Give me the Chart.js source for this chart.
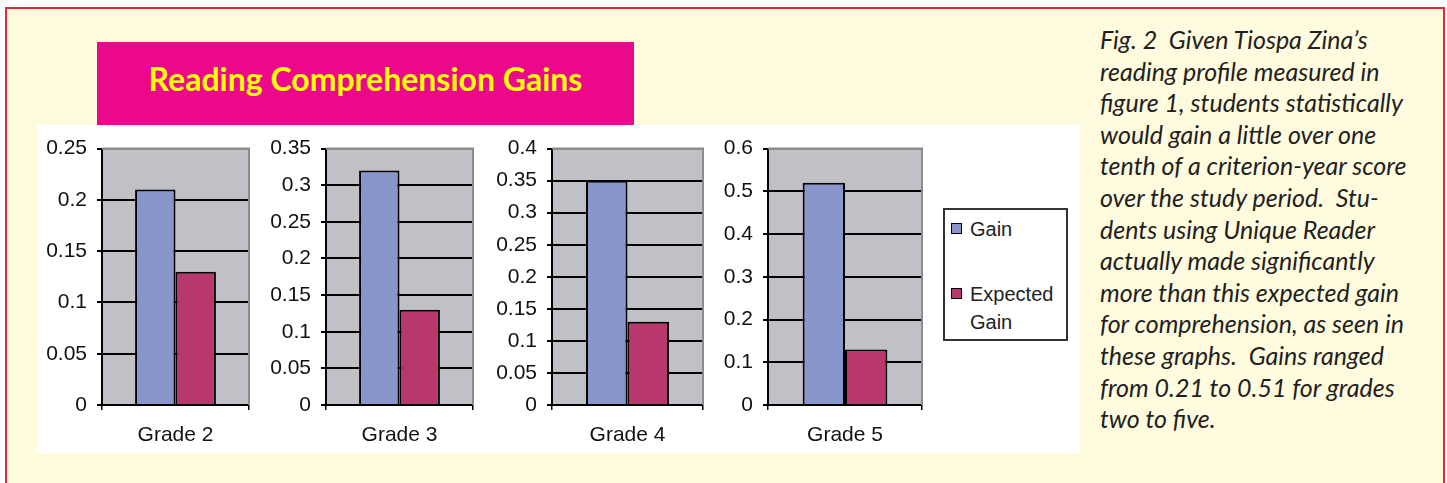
<!DOCTYPE html>
<html>
<head>
<meta charset="utf-8">
<script src="https://cdn.jsdelivr.net/npm/chart.js@4.4.0/dist/chart.umd.min.js"></script>
<style>
    html, body { margin: 0; padding: 0; width: 1447px; height: 483px; overflow: hidden; background: #fff; }
    #frame { position: absolute; left: 5px; top: 7px; width: 1436px; height: 520px; border: 2px solid #e62a3d; background: #fffbdf; }
    #title { position: absolute; left: 97px; top: 42px; width: 537px; height: 84px; background: #ec088b;
             color: #ffff00; font: bold 32px Lato, sans-serif; text-align: center; line-height: 74px; }
    #plotbox { position: absolute; left: 37px; top: 125px; width: 1043px; height: 328px; background: #fff; }
    canvas.panel { position: absolute; top: 126px; }
    #legend { position: absolute; left: 943px; top: 208px; width: 121px; height: 129px; border: 2px solid #333; background: #fff;
              font: 20px "Liberation Sans", Arial, sans-serif; color: #222; }
    #legend .item { position: absolute; left: 25px; line-height: 28px; }
    #legend .swatch { position: absolute; left: -19px; top: 8px; width: 9px; height: 9px; border: 1px solid #000; }
    #caption { position: absolute; left: 1100px; top: 24px; font: italic 25px Lato, sans-serif; line-height: 31.6px; color: #231f20; white-space: pre; }
</style>
</head>
<body>
<div id="frame"></div>
<div id="title">Reading Comprehension Gains</div>
<div id="plotbox"></div>
<canvas class="panel" id="c0"></canvas>
<canvas class="panel" id="c1"></canvas>
<canvas class="panel" id="c2"></canvas>
<canvas class="panel" id="c3"></canvas>
<div id="legend"></div>
<div id="caption"></div>

<script>
// chart data
const categories = ["Grade 2", "Grade 3", "Grade 4", "Grade 5"];
const seriesNames = ["Gain", "Expected Gain"];
const gainValues = [0.21, 0.32, 0.35, 0.52];
const expectedValues = [0.13, 0.13, 0.13, 0.13];
const axisMax = [0.25, 0.35, 0.4, 0.6];
const axisStep = [0.05, 0.05, 0.05, 0.1];
const tickLabels = [
    ["0", "0.05", "0.1", "0.15", "0.2", "0.25"],
    ["0", "0.05", "0.1", "0.15", "0.2", "0.25", "0.3", "0.35"],
    ["0", "0.05", "0.1", "0.15", "0.2", "0.25", "0.3", "0.35", "0.4"],
    ["0", "0.1", "0.2", "0.3", "0.4", "0.5", "0.6"]
];

const captionLines = [
    "Fig. 2  Given Tiospa Zina\u2019s",
    "reading profile measured in",
    "figure 1, students statistically",
    "would gain a little over one",
    "tenth of a criterion-year score",
    "over the study period.  Stu-",
    "dents using Unique Reader",
    "actually made significantly",
    "more than this expected gain",
    "for comprehension, as seen in",
    "these graphs.  Gains ranged",
    "from 0.21 to 0.51 for grades",
    "two to five."
];

// look
const seriesColors = ["#8896cc", "#b8386e"];
const plotFill = "#c0c1c6";
const plotEdge = "#8c8c8c";
const axisFont = { family: "'Liberation Sans', Arial, sans-serif", size: 21 };

// where each little plot area sits on the page (left, right edge of plot)
const panels = [
    { plotLeft: 102, plotRight: 249 },
    { plotLeft: 326, plotRight: 473 },
    { plotLeft: 552, plotRight: 703 },
    { plotLeft: 768, plotRight: 922 }
];
const yAxisWidth = 66;
const rightPad = 8;
const canvasHeight = 327;

// gray plot background + gray top/right edge, like old Excel charts
const plotFrame = {
    id: "plotFrame",
    beforeDraw(chart) {
        const { ctx, chartArea: a } = chart;
        ctx.save();
        ctx.fillStyle = plotFill;
        ctx.fillRect(a.left, a.top, a.right - a.left, a.bottom - a.top);
        ctx.restore();
    },
    afterDraw(chart) {
        const { ctx, chartArea: a } = chart;
        ctx.save();
        ctx.strokeStyle = plotEdge;
        ctx.lineWidth = 2;
        ctx.beginPath();
        ctx.moveTo(a.left, a.top);
        ctx.lineTo(a.right, a.top);
        ctx.lineTo(a.right, a.bottom);
        ctx.stroke();
        ctx.restore();
    }
};

function buildPanel(i) {
    const p = panels[i];
    const canvas = document.getElementById("c" + i);
    const left = p.plotLeft - yAxisWidth;
    const width = p.plotRight + rightPad - left;
    canvas.style.left = left + "px";
    canvas.width = width;
    canvas.height = canvasHeight;

    const labels = tickLabels[i];

    new Chart(canvas.getContext("2d"), {
        type: "bar",
        data: {
            labels: [categories[i]],
            datasets: [
                {
                    label: seriesNames[0],
                    data: [gainValues[i]],
                    backgroundColor: seriesColors[0],
                    borderColor: "#000",
                    borderWidth: 2,
                    categoryPercentage: 0.55,
                    barPercentage: 1
                },
                {
                    label: seriesNames[1],
                    data: [expectedValues[i]],
                    backgroundColor: seriesColors[1],
                    borderColor: "#000",
                    borderWidth: 2,
                    categoryPercentage: 0.55,
                    barPercentage: 1
                }
            ]
        },
        options: {
            responsive: false,
            animation: false,
            devicePixelRatio: 1,
            layout: { padding: { top: 20, right: rightPad, left: 0, bottom: 0 } },
            plugins: { legend: { display: false }, tooltip: { enabled: false } },
            scales: {
                x: {
                    offset: true,
                    grid: { display: true, drawOnChartArea: false, offset: true, color: "#000", lineWidth: 1.5, tickLength: 5 },
                    border: { color: "#000", width: 2 },
                    ticks: { color: "#111", font: axisFont, padding: 13 },
                    afterFit(scale) { scale.height = 48; }
                },
                y: {
                    min: 0,
                    max: axisMax[i],
                    grid: {
                        color: ctx => ctx.index === labels.length - 1 ? plotEdge : "#000",
                        lineWidth: 2,
                        tickColor: "#000",
                        tickLength: 5
                    },
                    border: { color: "#000", width: 2 },
                    ticks: {
                        stepSize: axisStep[i],
                        autoSkip: false,
                        color: "#111",
                        font: axisFont,
                        padding: 10,
                        callback: (v, idx) => labels[idx]
                    },
                    afterFit(scale) { scale.width = yAxisWidth; }
                }
            }
        },
        plugins: [plotFrame]
    });
}

for (let i = 0; i < panels.length; i++) buildPanel(i);

// legend box on the right of the four charts
const legend = document.getElementById("legend");
const legendTops = [5, 70];
seriesNames.forEach((name, i) => {
    const item = document.createElement("div");
    item.className = "item";
    item.style.top = legendTops[i] + "px";
    const words = name.split(" ");
    item.innerHTML = `<span class="swatch" style="background:${seriesColors[i]}"></span>` + words.join("<br>");
    legend.appendChild(item);
});

document.getElementById("caption").textContent = captionLines.join("\n");
</script>
</body>
</html>
